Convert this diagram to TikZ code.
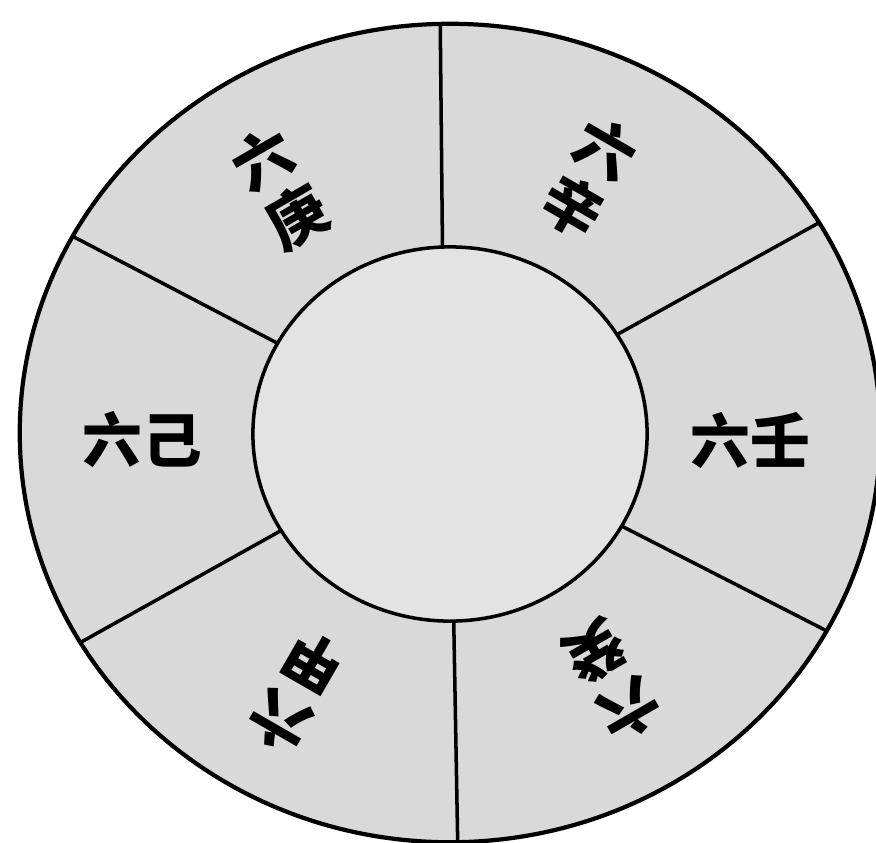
\documentclass[tikz,border=0pt]{standalone}
\usepackage{fontspec}
\newfontfamily\cjk{Noto Sans CJK SC}

\begin{document}
\begin{tikzpicture}[x=0.01cm,y=-0.01cm,
 ring/.style={fill=gray!30},
 rim/.style={draw=black,line width=1.2pt},
 hub/.style={draw=black,line width=1pt,fill=gray!22},
 spoke/.style={draw=black,line width=1pt},
 gan/.style={font=\cjk\bfseries\fontsize{17}{19}\selectfont,align=center,inner sep=0pt}]
\useasboundingbox (0,0) rectangle (876,842);
\clip (0,0) rectangle (876,842);
\fill[white] (0,0) rectangle (876,842);
\coordinate (o) at (450,433);
\coordinate (c) at (450,434);
\path[ring] (o) ellipse [x radius=4.30cm,y radius=4.09cm];
% six dividing lines
\coordinate (in1) at (443,300); \coordinate (out1) at (440,0);
\coordinate (in2) at (600,344); \coordinate (out2) at (860,200);
\coordinate (in3) at (300,355); \coordinate (out3) at (30,214);
\coordinate (in4) at (300,520); \coordinate (out4) at (40,665);
\coordinate (in5) at (600,515); \coordinate (out5) at (870,653);
\coordinate (in6) at (453,580); \coordinate (out6) at (458,860);
\begin{scope}
\clip (o) ellipse [x radius=4.30cm,y radius=4.09cm];
\draw[spoke] (in1)--(out1); \draw[spoke] (in2)--(out2); \draw[spoke] (in3)--(out3);
\draw[spoke] (in4)--(out4); \draw[spoke] (in5)--(out5); \draw[spoke] (in6)--(out6);
\end{scope}
\path[rim] (o) ellipse [x radius=4.30cm,y radius=4.09cm];
\path[hub] (c) ellipse [x radius=1.97cm,y radius=1.87cm];
% labels
\node[gan,rotate=30] (geng) at (280,188) {六\\庚};
\node[gan,rotate=-30] (xin) at (589,178) {六\\辛};
\node[gan] (ren) at (750,440) {六壬};
\node[gan,rotate=210] (gui) at (612,680) {六\\癸};
\node[gan,rotate=150] (jia) at (297,692) {六\\甲};
\node[gan] (ji) at (142,440) {六己};
\end{tikzpicture}
\end{document}
